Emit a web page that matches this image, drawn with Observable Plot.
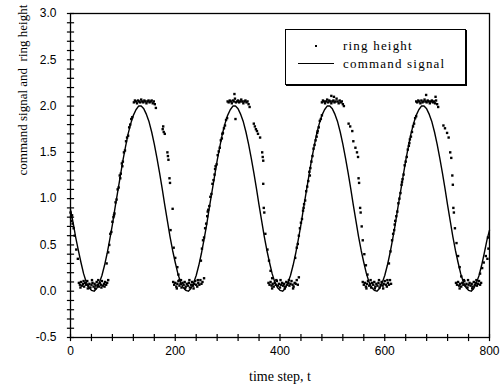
<!DOCTYPE html>
<html><head><meta charset="utf-8">
<script src="https://cdn.jsdelivr.net/npm/d3@7"></script>
<script src="https://cdn.jsdelivr.net/npm/@observablehq/plot@0.6"></script>
<style>
html,body{margin:0;padding:0;background:#fff;}
#wrap{position:relative;width:504px;height:390px;}
#legend{position:absolute;left:285px;top:29px;width:179px;height:54px;border:1px solid #000;box-shadow:1px 1px 0 #000;background:#fff;font-family:"Liberation Serif",serif;font-size:13px;letter-spacing:1.2px;color:#000;}
#legend .row{position:absolute;left:0;width:100%;height:16px;}
#legend .lbl{position:absolute;left:57px;top:0;line-height:16px;}
#legend .dot{position:absolute;left:29px;top:7px;width:2px;height:2px;background:#000;}
#legend .ln{position:absolute;left:12px;top:7px;width:36px;height:0;border-top:1.3px solid #000;}
</style></head><body><div id="wrap"><div id="legend">
<div class="row" style="top:8px"><span class="dot"></span><span class="lbl">ring height</span></div>
<div class="row" style="top:26px"><span class="ln"></span><span class="lbl">command signal</span></div>
</div></div>
<script>
// command signal sampled every 5 time steps, t = 0..800
const commandStep = 5;
const commandSignal = [
0.88,0.74,0.58,0.44,0.31,0.19,0.10,0.04,0.01,
0.00,0.03,0.09,0.17,0.28,0.41,0.56,0.72,0.90,1.07,1.24,1.41,1.56,1.70,1.81,1.90,1.96,2.00,2.00,1.97,1.91,1.83,1.72,1.59,1.44,1.28,1.11,0.93,0.76,0.59,0.44,0.31,0.19,0.10,0.04,0.01,
0.00,0.03,0.09,0.17,0.28,0.41,0.56,0.72,0.90,1.07,1.24,1.41,1.56,1.70,1.81,1.90,1.96,2.00,2.00,1.97,1.91,1.83,1.72,1.59,1.44,1.28,1.11,0.93,0.76,0.59,0.44,0.31,0.19,0.10,0.04,0.01,
0.00,0.03,0.09,0.17,0.28,0.41,0.56,0.72,0.90,1.07,1.24,1.41,1.56,1.70,1.81,1.90,1.96,2.00,2.00,1.97,1.91,1.83,1.72,1.59,1.44,1.28,1.11,0.93,0.76,0.59,0.44,0.31,0.19,0.10,0.04,0.01,
0.00,0.03,0.09,0.17,0.28,0.41,0.56,0.72,0.90,1.07,1.24,1.41,1.56,1.70,1.81,1.90,1.96,2.00,2.00,1.97,1.91,1.83,1.72,1.59,1.44,1.28,1.11,0.93,0.76,0.59,0.44,0.31,0.19,0.10,0.04,0.01,
0.00,0.03,0.09,0.17,0.28,0.41,0.55,0.66
];

// ring height samples [time step, height]
const ringHeight = [
// start
[0,0.85],[1,0.80],[2,0.76],[3,0.82],[4,0.73],[6,0.68],[8,0.60],[11,0.45],[14,0.35],
// bottom 1
[16,0.09],[18,0.07],[20,0.10],[22,0.06],[24,0.08],[26,0.05],[28,0.09],[30,0.07],[32,0.11],[34,0.06],[36,0.08],[38,0.04],[40,0.07],[42,0.09],[44,0.05],[46,0.08],[48,0.06],[50,0.10],[52,0.07],[54,0.05],[56,0.09],[58,0.07],[60,0.11],[62,0.06],[64,0.08],[66,0.10],[68,0.07],[70,0.09],[72,0.12],
[19,0.04],[25,0.11],[33,0.03],[41,0.12],[47,0.03],[53,0.12],[59,0.04],[65,0.05],
// rise 1
[69,0.30],[72,0.42],[74,0.50],[76,0.62],[78,0.64],[80,0.75],[82,0.80],[84,0.84],[86,0.96],[88,0.99],[90,1.10],[92,1.12],[94,1.25],[96,1.27],[98,1.38],[100,1.40],[102,1.50],[104,1.52],[106,1.62],[108,1.66],[110,1.68],[112,1.77],[114,1.80],[116,1.86],[118,1.88],[95,1.22],[99,1.35],[83,0.82],
// top 1
[121,2.04],[123,2.06],[125,2.05],[127,2.03],[129,2.06],[131,2.05],[133,2.04],[135,2.07],[137,2.05],[139,2.04],[141,2.06],[143,2.05],[145,2.03],[147,2.05],[149,2.06],[151,2.04],[153,2.05],[155,2.06],[157,2.03],[159,2.05],[161,2.02],[163,1.98],
// fall 1
[176,1.75],[177,1.78],[178,1.72],[180,1.70],[185,1.50],[186,1.46],[187,1.42],[189,1.22],[190,1.17],[195,0.89],[191,0.66],[197,0.47],[200,0.36],[204,0.26],[206,0.18],[208,0.12],
// bottom 2
[196,0.10],[198,0.07],[200,0.09],[202,0.05],[204,0.08],[206,0.11],[208,0.06],[210,0.08],[212,0.04],[214,0.09],[216,0.07],[218,0.10],[220,0.05],[222,0.08],[224,0.06],[226,0.09],[228,0.04],[230,0.07],[232,0.10],[234,0.06],[236,0.08],[238,0.11],[240,0.07],[242,0.05],[244,0.09],[246,0.07],[248,0.12],[250,0.08],[252,0.10],[255,0.14],
[203,0.03],[211,0.12],[219,0.03],[227,0.12],[235,0.03],[243,0.12],
// rise 2
[249,0.33],[251,0.46],[253,0.55],[255,0.58],[257,0.68],[259,0.73],[261,0.81],[263,0.88],[265,0.92],[267,1.02],[269,1.05],[271,1.16],[273,1.20],[275,1.26],[277,1.35],[279,1.37],[281,1.47],[283,1.51],[285,1.55],[287,1.63],[289,1.65],[291,1.71],[293,1.76],[295,1.79],[297,1.85],[299,1.87],[262,0.86],[276,1.32],[290,1.70],
// top 2
[300,2.05],[302,2.04],[304,2.06],[306,2.05],[308,2.03],[310,2.06],[312,2.05],[314,2.08],[316,2.04],[318,2.05],[320,2.06],[322,2.04],[324,2.05],[326,2.07],[328,2.05],[330,2.03],[332,2.05],[334,2.06],[336,2.04],[338,2.05],[340,2.02],[342,1.99],[313,2.13],[315,1.86],
// fall 2
[350,1.81],[352,1.78],[354,1.75],[356,1.73],[358,1.70],[362,1.66],[366,1.50],[367,1.45],[368,1.41],[368,1.16],[369,0.90],[370,0.85],[372,0.62],[376,0.45],[379,0.33],[382,0.22],[385,0.14],
// bottom 3
[378,0.09],[380,0.07],[382,0.10],[384,0.06],[386,0.08],[388,0.05],[390,0.09],[392,0.07],[394,0.11],[396,0.06],[398,0.08],[400,0.04],[402,0.07],[404,0.09],[406,0.06],[408,0.08],[410,0.05],[412,0.10],[414,0.07],[416,0.09],[418,0.06],[420,0.08],[422,0.11],[424,0.07],[426,0.05],[428,0.09],[430,0.08],[432,0.12],[434,0.07],
[385,0.03],[393,0.12],[401,0.12],[409,0.03],[417,0.12],[425,0.03],[436,0.15],
// rise 3
[429,0.36],[432,0.47],[434,0.51],[436,0.60],[438,0.68],[440,0.74],[442,0.78],[444,0.87],[446,0.94],[448,0.98],[450,1.08],[452,1.13],[454,1.19],[456,1.29],[458,1.33],[460,1.40],[462,1.46],[464,1.54],[466,1.58],[468,1.63],[470,1.67],[472,1.73],[474,1.77],[476,1.84],[478,1.86],[480,1.90],[445,0.90],[457,1.25],[471,1.71],
// top 3
[480,2.04],[482,2.06],[484,2.05],[486,2.03],[488,2.05],[490,2.07],[492,2.04],[494,2.06],[496,2.05],[498,2.03],[500,2.05],[502,2.06],[504,2.04],[506,2.05],[508,2.08],[510,2.05],[512,2.03],[514,2.06],[516,2.04],[518,2.05],[520,2.02],[522,2.00],[498,2.11],[503,2.10],
// fall 3
[531,1.81],[534,1.78],[538,1.73],[540,1.62],[544,1.55],[547,1.50],[549,1.45],[550,1.22],[551,1.17],[553,0.90],[554,0.85],[556,0.70],[558,0.55],[561,0.40],[564,0.28],[567,0.18],
// bottom 4
[558,0.10],[560,0.07],[562,0.09],[564,0.05],[566,0.08],[568,0.11],[570,0.06],[572,0.08],[574,0.04],[576,0.09],[578,0.07],[580,0.10],[582,0.05],[584,0.08],[586,0.06],[588,0.09],[590,0.04],[592,0.07],[594,0.10],[596,0.06],[598,0.08],[600,0.11],[602,0.07],[604,0.05],[606,0.09],[608,0.07],[610,0.12],[612,0.08],
[565,0.03],[573,0.12],[581,0.03],[589,0.12],[597,0.03],[605,0.12],
// rise 4
[608,0.30],[611,0.43],[614,0.55],[616,0.62],[618,0.66],[620,0.76],[622,0.81],[624,0.86],[626,0.95],[628,1.00],[630,1.06],[632,1.15],[634,1.21],[636,1.26],[638,1.36],[640,1.40],[642,1.45],[644,1.53],[646,1.57],[648,1.64],[650,1.67],[652,1.72],[654,1.78],[656,1.81],[658,1.87],[660,1.89],[619,0.72],[633,1.18],[647,1.60],
// top 4
[660,2.05],[662,2.04],[664,2.06],[666,2.05],[668,2.03],[670,2.06],[672,2.04],[674,2.05],[676,2.07],[678,2.05],[680,2.04],[682,2.06],[684,2.05],[686,2.03],[688,2.05],[690,2.06],[692,2.04],[694,2.05],[696,2.03],[698,2.06],[700,2.02],[702,1.99],[679,2.12],[697,2.10],
// fall 4
[712,1.79],[715,1.76],[719,1.71],[722,1.66],[725,1.50],[727,1.44],[729,1.25],[730,1.15],[731,0.90],[732,0.85],[734,0.68],[737,0.52],[740,0.38],[743,0.26],[746,0.16],
// bottom 5
[736,0.09],[738,0.07],[740,0.10],[742,0.06],[744,0.08],[746,0.05],[748,0.09],[750,0.07],[752,0.11],[754,0.06],[756,0.08],[758,0.04],[760,0.07],[762,0.09],[764,0.06],[766,0.08],[768,0.05],[770,0.10],[772,0.07],[774,0.09],[776,0.06],[778,0.08],[780,0.11],[782,0.07],[784,0.09],
[743,0.03],[751,0.12],[759,0.12],[767,0.03],[775,0.12],
// rise 5
[782,0.19],[786,0.25],[789,0.31],[793,0.38],[796,0.35],[798,0.46],[797,0.58]
];

const xDomain = [0, 800];
const yDomain = [-0.5, 3.0];
const xTickLabels = [0, 200, 400, 600, 800];
const yTickLabels = [-0.5, 0.0, 0.5, 1.0, 1.5, 2.0, 2.5, 3.0];
const xMinorTicks = d3.range(0, 801, 40);
const yMinorTicks = d3.range(-5, 31).map(i => i / 10);
const xTitle = "time step, t";
const yTitle = "command signal and  ring height";

const commandData = commandSignal.map((v, i) => ({t: i * commandStep, v}));

const hTick = {draw(ctx, size){const r = Math.sqrt(size/Math.PI); ctx.moveTo(-r,0); ctx.lineTo(r,0);}};
const vTick = {draw(ctx, size){const r = Math.sqrt(size/Math.PI); ctx.moveTo(0,-r); ctx.lineTo(0,r);}};

const chart = Plot.plot({
  width: 504, height: 390,
  marginLeft: 70, marginRight: 15, marginTop: 13, marginBottom: 53,
  x: {domain: xDomain, axis: null},
  y: {domain: yDomain, axis: null},
  style: {background: "white", color: "black", fontFamily: "Liberation Sans, Arial, sans-serif"},
  marks: [
    Plot.frame({stroke: "black", strokeWidth: 1.3}),
    Plot.dot(yMinorTicks, {x: d => 0, y: d => d, symbol: hTick, r: 3.6, stroke: "black", strokeWidth: 1.2}),
    Plot.dot(xMinorTicks, {x: d => d, y: d => -0.5, symbol: vTick, r: 3.6, stroke: "black", strokeWidth: 1.2}),
    Plot.text(yTickLabels, {x: d => 0, y: d => d, text: d => d.toFixed(1), textAnchor: "end", dx: -14, fontSize: 12, letterSpacing: "0.5px"}),
    Plot.text(xTickLabels, {x: d => d, y: d => -0.5, text: d => String(d), lineAnchor: "top", dy: 9, fontSize: 12, letterSpacing: "0.5px"}),
    Plot.text([xTitle], {frameAnchor: "bottom", text: d => d, lineAnchor: "top", dy: 34, fontSize: 14, fontFamily: "Liberation Serif, serif", letterSpacing: "1.6px"}),
    Plot.text([yTitle], {frameAnchor: "left", text: d => d, rotate: -90, dx: -48, fontSize: 13, fontFamily: "Liberation Serif, serif", letterSpacing: "1.2px"}),
    Plot.line(commandData, {x: "t", y: "v", stroke: "black", strokeWidth: 1.4, curve: "linear"}),
    Plot.dot(ringHeight, {x: d => d[0], y: d => d[1], symbol: "square", r: 1.35, fill: "black"})
  ]
});
document.getElementById("wrap").prepend(chart);
</script>
</body></html>
